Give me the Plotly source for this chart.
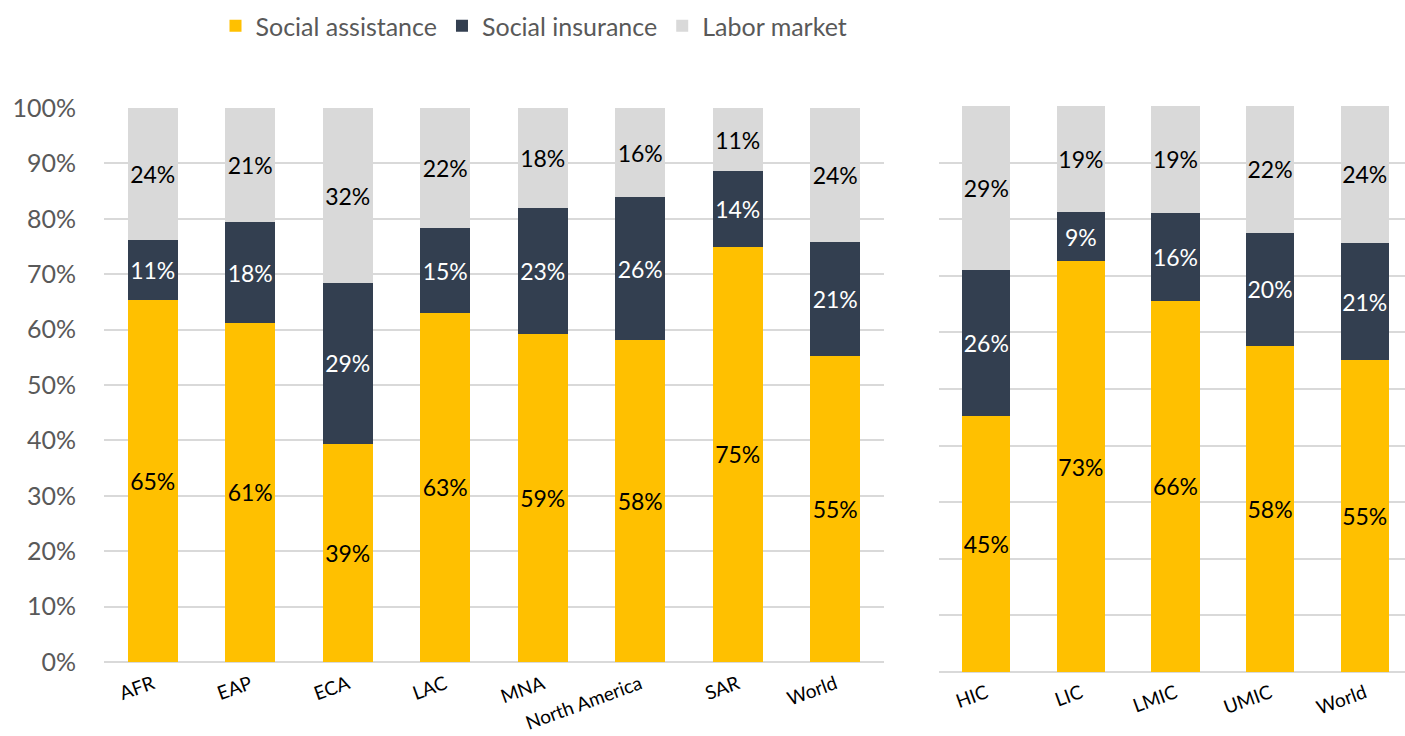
import plotly.graph_objects as go

# Regional breakdown (percent of total)
regions = ["AFR", "EAP", "ECA", "LAC", "MNA", "North America", "SAR", "World"]
reg_assistance = [65.4, 61.2, 39.4, 63.0, 59.2, 58.1, 75.0, 55.2]
reg_insurance = [10.8, 18.2, 29.0, 15.3, 22.7, 25.8, 13.6, 20.6]
reg_labor = [23.8, 20.6, 31.6, 21.7, 18.1, 16.1, 11.4, 24.2]

# Income-group breakdown (percent of total)
groups = ["HIC", "LIC", "LMIC", "UMIC", "World"]
grp_assistance = [45.2, 72.6, 65.6, 57.6, 55.1]
grp_insurance = [25.8, 8.6, 15.5, 20.0, 20.7]
grp_labor = [29.0, 18.8, 18.9, 22.4, 24.2]

series_names = ["Social assistance", "Social insurance", "Labor market"]
colors = ["#FFC000", "#333F50", "#D9D9D9"]
text_colors = ["black", "white", "black"]

W, H = 1405, 736
FONT = "Lato, 'Open Sans', sans-serif"

fig = go.Figure()

panels = [
    (regions, [reg_assistance, reg_insurance, reg_labor], "x", "y", True),
    (groups, [grp_assistance, grp_insurance, grp_labor], "x2", "y2", False),
]
for cats, vals, xa, ya, show in panels:
    for name, v, c, tc in zip(series_names, vals, colors, text_colors):
        fig.add_trace(go.Bar(
            x=cats, y=v, name=name, marker=dict(color=c, line=dict(width=0)),
            xaxis=xa, yaxis=ya, showlegend=show,
            texttemplate="%{y:.0f}%", textposition="inside",
            insidetextanchor="middle", textangle=0,
            textfont=dict(color=tc, size=23, family=FONT),
            constraintext="none", legendgroup=name,
        ))

grid = dict(showgrid=True, gridcolor="#D9D9D9", gridwidth=1.5,
            zeroline=True, zerolinecolor="#D9D9D9", zerolinewidth=2,
            range=[0, 100], dtick=10, fixedrange=True)

left_x0, left_x1 = 104 / W, 884 / W
right_x0 = 939 / W
fig.update_layout(
    width=W, height=H,
    margin=dict(l=0, r=0, t=0, b=0, autoexpand=False),
    paper_bgcolor="white", plot_bgcolor="white",
    barmode="stack", bargap=0.49,
    font=dict(family=FONT),
    legend=dict(orientation="h", x=534 / W, xanchor="center",
                y=1 - 26 / H, yanchor="middle",
                font=dict(size=25, color="#595959"),
                traceorder="normal", itemwidth=30),
    xaxis=dict(domain=[left_x0, left_x1], type="category",
               tickangle=-20, tickfont=dict(size=19, color="black"),
               ticks="outside", ticklen=3, tickcolor="rgba(0,0,0,0)",
               showline=False),
    yaxis=dict(domain=[(H - 662) / H, (H - 108) / H], ticksuffix="%",
               tickfont=dict(size=25, color="#595959"),
               ticks="outside", ticklen=22, tickcolor="rgba(0,0,0,0)",
               **grid),
    xaxis2=dict(domain=[right_x0, 1.0], type="category",
                range=[-0.5, 4.5 - 7 / 94.75],
                tickangle=-20, tickfont=dict(size=19, color="black"),
                ticks="outside", ticklen=12, tickcolor="rgba(0,0,0,0)",
                showline=False),
    yaxis2=dict(domain=[(H - 672) / H, (H - 106) / H], anchor="x2",
                showticklabels=False, **grid),
)

fig.write_html("out.html")
